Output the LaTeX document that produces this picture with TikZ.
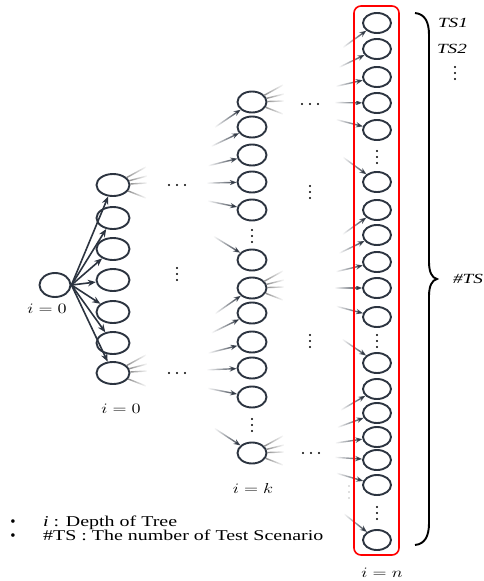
\documentclass[tikz,border=0pt]{standalone}
\usepackage{fontspec}
\usepackage{graphicx}
\setmainfont{Liberation Serif}
\usetikzlibrary{shapes.geometric,arrows.meta,calc,fadings}
\definecolor{dk}{RGB}{44,52,64}
\tikzfading[name=fadeoutright, left color=transparent!0, right color=transparent!100]
\tikzfading[name=fadeinright, left color=transparent!100, middle color=transparent!25, right color=transparent!0]
\begin{document}
\begin{tikzpicture}[x=1pt,y=-1pt,
  nd/.style={ellipse,draw=dk,line width=1.9pt,inner sep=0pt},
  arr/.style={draw=dk,line width=1.6pt,-{Stealth[length=8pt,width=6.5pt]}},
  inarr/.style={draw=dk,line width=1.4pt,-{Stealth[length=7pt,width=5.5pt]},path fading=fadeinright},
  fan/.style={draw=gray!90,line width=1.4pt,path fading=fadeoutright},
  lab/.style={inner sep=0pt},
  dotc/.style={fill=black}]
\useasboundingbox (0,0) rectangle (483,581);
% root and level 1
\node[nd,minimum width=31pt,minimum height=24pt] (R) at (55,285) {};
\foreach \i/\y in {1/185,2/218,3/249,4/280,5/312,6/343,7/373}
  \node[nd,minimum width=33pt,minimum height=22pt] (L\i) at (113,\y) {};
\foreach \i in {1,...,7} \draw[arr] (R.east) -- (L\i);
% level k
\foreach \i/\y in {1/102,2/127,3/155,4/182,5/210,6/260,7/288,8/313,9/342,10/368,11/397,12/453}
  \node[nd,minimum width=29pt,minimum height=21pt] (K\i) at (252,\y) {};
% level n
\foreach \i/\y in {1/23,2/49,3/77,4/103,5/130,6/182,7/210,8/235,9/262,10/288,11/317,12/363,13/389,14/413,15/437,16/460,17/485,18/540}
  \node[nd,minimum width=28pt,minimum height=20pt] (N\i) at (377,\y) {};
% virtual parents
\coordinate (P1) at (130,185);
\coordinate (P2) at (130,373);
\coordinate (Q1) at (267,102);
\coordinate (Q2) at (267,288);
\coordinate (Q3) at (267,453);
% incoming faded arrows
\foreach \i in {1,...,6} \draw[inarr] ($(K\i)!45pt!(P1)$) -- (K\i);
\foreach \i in {7,...,12} \draw[inarr] ($(K\i)!45pt!(P2)$) -- (K\i);
\foreach \i in {1,...,6} \draw[inarr] ($(N\i)!42pt!(Q1)$) -- (N\i);
\foreach \i in {7,...,12} \draw[inarr] ($(N\i)!42pt!(Q2)$) -- (N\i);
\foreach \i in {13,...,18} \draw[inarr] ($(N\i)!42pt!(Q3)$) -- (N\i);
% outgoing faded fans
\foreach \n in {L1,L7}
  \foreach \dx/\dy in {33/-18,34/-9,34/-2,33/13}
    \draw[fan] (\n) -- ($(\n)+(\dx,\dy)$);
\foreach \n in {K1,K7,K12}
  \foreach \dx/\dy in {31/-17,32/-8,32/-1,31/12}
    \draw[fan] (\n) -- ($(\n)+(\dx,\dy)$);
% horizontal dots
\foreach \p in {(177,185),(177,373),(310,104),(311,453)}
  \fill[dotc] \p ++(-8,0) circle[radius=1.2pt] ++(8,0) circle[radius=1.2pt] ++(8,0) circle[radius=1.2pt];
% vertical dots
\foreach \p in {(177,274),(310,192),(310,341),(252,236),(252,425),(377,157),(377,341),(377,513),(455,73)}
  \fill[dotc] \p ++(0,-6) circle[radius=1.2pt] ++(0,6) circle[radius=1.2pt] ++(0,6) circle[radius=1.2pt];
\fill[gray!50] (349,486) circle[radius=0.9pt] (349,492) circle[radius=0.9pt] (349,498) circle[radius=0.9pt];
% red box
\draw[red,line width=1.6pt,rounded corners=7pt] (354,6) rectangle (399,555);
% brace
\draw[black,line width=1.9pt] (415,13) .. controls (425,14) and (429,22) .. (429,35) -- (429,262)
  .. controls (429,272) and (432,278) .. (437,279) .. controls (432,280) and (429,286) .. (429,296)
  -- (429,523) .. controls (429,536) and (425,544) .. (415,545);
% labels
\node[lab,anchor=base] (t1) at (453,27) {\scalebox{1.37}[1]{\fontsize{14}{16}\selectfont\textit{TS1}}};
\node[lab,anchor=base] (t2) at (452,53) {\scalebox{1.37}[1]{\fontsize{14}{16}\selectfont\textit{TS2}}};
\node[lab,anchor=base] (t3) at (468,283) {\scalebox{1.37}[1]{\fontsize{14}{16}\selectfont\textit{\#TS}}};
\node[lab,anchor=base] (l0) at (47,313) {\scalebox{1.28}[1]{\fontsize{15}{17}\selectfont$i=0$}};
\node[lab,anchor=base] (l1) at (121,413) {\scalebox{1.28}[1]{\fontsize{15}{17}\selectfont$i=0$}};
\node[lab,anchor=base] (lk) at (253,493) {\scalebox{1.28}[1]{\fontsize{15}{17}\selectfont$i=k$}};
\node[lab,anchor=base] (ln) at (382,577) {\scalebox{1.28}[1]{\fontsize{15}{17}\selectfont$i=n$}};
% legend
\node[lab,anchor=base] (b1) at (13,526) {\fontsize{15}{17}\selectfont\textbullet};
\node[lab,anchor=base] (b2) at (13,540) {\fontsize{15}{17}\selectfont\textbullet};
\node[lab,anchor=base west] (g1) at (43,526) {\scalebox{1.33}[1]{\fontsize{15}{17}\selectfont\textit{i} : Depth of Tree}};
\node[lab,anchor=base west] (g2) at (43,540) {\scalebox{1.33}[1]{\fontsize{15}{17}\selectfont\#TS : The number of Test Scenario}};
\end{tikzpicture}
\end{document}
